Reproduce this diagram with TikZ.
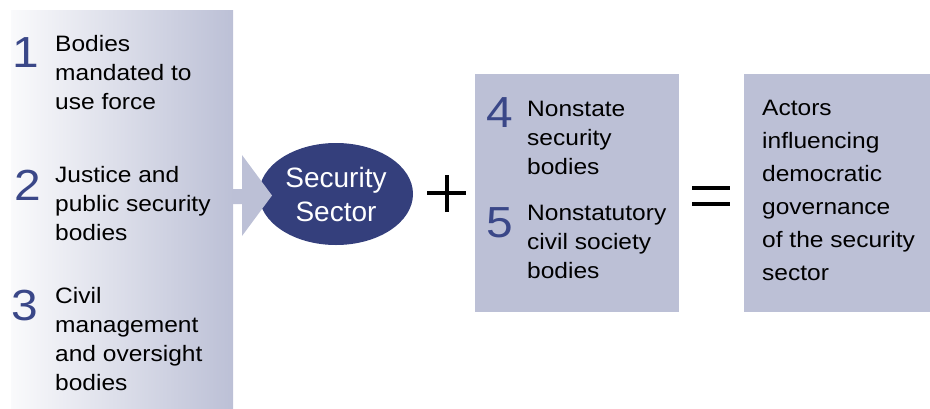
\documentclass[tikz,border=0pt]{standalone}
\usepackage{fontspec}
\setmainfont{Liberation Sans}
\newfontfamily\bodyf[FakeStretch=1.1]{Liberation Sans}
\usetikzlibrary{shapes.geometric}
\definecolor{boxc}{HTML}{BCC0D6}
\definecolor{numc}{HTML}{3A4788}
\definecolor{ellc}{HTML}{343F7C}
\tikzset{
  panelbox/.style={draw=none, fill=boxc, inner sep=0, anchor=north west},
  txt/.style={font=\bodyf\fontsize{22.3}{29}\selectfont, align=left, inner sep=0, anchor=north west, text=black},
  txtwide/.style={font=\bodyf\fontsize{22.3}{33}\selectfont, align=left, inner sep=0, anchor=north west, text=black},
  num/.style={font=\bodyf\fontsize{43.5}{43.5}\selectfont, text=numc, inner sep=0, anchor=north west},
  opbar/.style={line width=4pt, black}
}
\begin{document}
\begin{tikzpicture}[x=1pt,y=-1pt]
\useasboundingbox (0,0) rectangle (930,408);
% left gradient panel
\node[inner sep=0, anchor=north west, minimum width=222pt, minimum height=398pt,
      left color=boxc!8, right color=boxc, draw=none] (panel) at (11,10) {};
% middle and result boxes
\node[panelbox, minimum width=204pt, minimum height=238pt] (mid) at (475,74) {};
\node[panelbox, minimum width=186pt, minimum height=238pt] (res) at (744,74) {};
% security sector ellipse
\node[ellipse, fill=ellc, inner sep=0, minimum width=154pt, minimum height=102pt,
      text=white, align=center, font=\fontsize{28}{34}\selectfont] (ss) at (336,194) {Security\\Sector};
% arrow from panel into ellipse
\fill[boxc] (233,189) -- (242,189) -- (242,155) -- (272,195.5) -- (242,236) -- (242,204) -- (233,204) -- cycle;
% numbers
\node[num] (n1) at (12,37) {1};
\node[num] (n2) at (14.5,170) {2};
\node[num] (n3) at (11,290) {3};
\node[num] (n4) at (486.5,97) {4};
\node[num] (n5) at (486.5,207) {5};
% texts
\node[txt] (t1) at (55,35) {Bodies\\mandated to\\use force};
\node[txt] (t2) at (55,166) {Justice and\\public security\\bodies};
\node[txt] (t3) at (55,287) {Civil\\management\\and oversight\\bodies};
\node[txt] (t4) at (527,101) {Nonstate\\security\\bodies};
\node[txt] (t5) at (527,205) {Nonstatutory\\civil society\\bodies};
\node[txtwide] (t6) at (762,100) {Actors\\influencing\\democratic\\governance\\of the security\\sector};
% plus sign
\coordinate (plusc) at (447,193);
\draw[opbar] ([xshift=-20pt]plusc) -- ([xshift=19pt]plusc);
\draw[opbar] ([yshift=-19pt]plusc) -- ([yshift=18pt]plusc);
% equals sign
\coordinate (eqc) at (711,196);
\draw[opbar] ([xshift=-19pt,yshift=-8pt]eqc) -- ([xshift=19pt,yshift=-8pt]eqc);
\draw[opbar] ([xshift=-19pt,yshift=8pt]eqc) -- ([xshift=19pt,yshift=8pt]eqc);
\end{tikzpicture}
\end{document}
